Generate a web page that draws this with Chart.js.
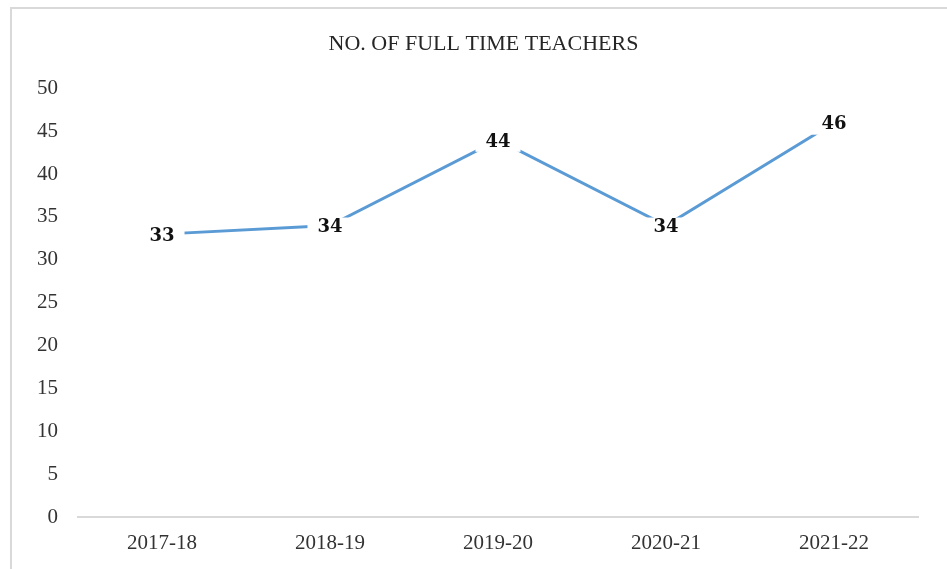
<!DOCTYPE html>
<html>
<head>
<meta charset="utf-8">
<script src="https://cdn.jsdelivr.net/npm/chart.js@4/dist/chart.umd.min.js"></script>
<style>
    html, body { margin: 0; padding: 0; background: #ffffff; }
    #wrap { position: relative; width: 947px; height: 569px; overflow: hidden; }
    /* moldura do grafico (so aparece em cima e na esquerda) */
    #frame { position: absolute; left: 10px; top: 7px; width: 1000px; height: 1000px;
             border-left: 2px solid #d9d9d9; border-top: 2px solid #d9d9d9; }
    #myChart { position: absolute; left: 0; top: 0; }
</style>
</head>
<body>
<div id="wrap">
    <div id="frame"></div>
    <canvas id="myChart" width="947" height="569"></canvas>
</div>
<script>
// Dados do grafico
const years = ['2017-18', '2018-19', '2019-20', '2020-21', '2021-22'];
const teachers = [33, 34, 44, 34, 46];
const yMin = 0;
const yMax = 50;
const yStep = 5;

// Rotulos de dados com fundo branco (cortam a linha)
const dataLabels = {
    id: 'dataLabels',
    afterDatasetsDraw(chart) {
        const ctx = chart.ctx;
        const meta = chart.getDatasetMeta(0);
        ctx.save();
        ctx.font = 'bold 18px "DejaVu Serif"';
        ctx.textAlign = 'center';
        ctx.textBaseline = 'middle';
        meta.data.forEach((pt, i) => {
            const text = String(chart.data.datasets[0].data[i]);
            const w = ctx.measureText(text).width + 20;
            const h = 20;
            const cx = pt.x;
            const cy = pt.y + 2;
            ctx.fillStyle = '#ffffff';
            ctx.fillRect(cx - w / 2, cy - h / 2, w, h);
            ctx.fillStyle = '#111111';
            ctx.fillText(text, cx, cy);
        });
        ctx.restore();
    }
};

const ctx = document.getElementById('myChart').getContext('2d');

new Chart(ctx, {
    type: 'line',
    data: {
        labels: years,
        datasets: [{
            label: 'No. of full time teachers',
            data: teachers,
            borderColor: '#5b9bd5',
            backgroundColor: '#5b9bd5',
            borderWidth: 3,
            borderCapStyle: 'round',
            pointRadius: 0,
            pointHoverRadius: 0,
            tension: 0,
            yAxisID: 'y'
        }]
    },
    options: {
        responsive: false,
        animation: false,
        layout: { padding: { left: 20, right: 0, top: 0, bottom: 0 } },
        plugins: {
            legend: { display: false },
            tooltip: { enabled: false },
            title: {
                display: true,
                text: 'NO. OF FULL TIME TEACHERS',
                color: '#262626',
                font: { family: '"Liberation Serif"', size: 22, weight: 'normal' },
                padding: { top: 31, bottom: 31 }
            }
        },
        scales: {
            x: {
                offset: true,
                grid: { display: false, drawTicks: false },
                border: { display: true, color: '#d9d9d9', width: 2 },
                ticks: {
                    color: '#333333',
                    font: { family: '"Liberation Serif"', size: 21 },
                    padding: 14,
                    maxRotation: 0
                },
                afterFit(scale) { scale.height = 52; }
            },
            y: {
                min: yMin,
                max: yMax,
                grid: { display: false, drawTicks: false },
                border: { display: false },
                ticks: {
                    stepSize: yStep,
                    color: '#333333',
                    font: { family: '"Liberation Serif"', size: 21 },
                    padding: 20
                },
                afterFit(scale) { scale.width = 58; }
            },
            // eixo vazio so para reservar espaco na direita
            yRight: {
                position: 'right',
                display: true,
                grid: { display: false, drawTicks: false },
                border: { display: false },
                ticks: { display: false },
                afterFit(scale) { scale.width = 29; }
            }
        }
    },
    plugins: [dataLabels]
});
</script>
</body>
</html>
